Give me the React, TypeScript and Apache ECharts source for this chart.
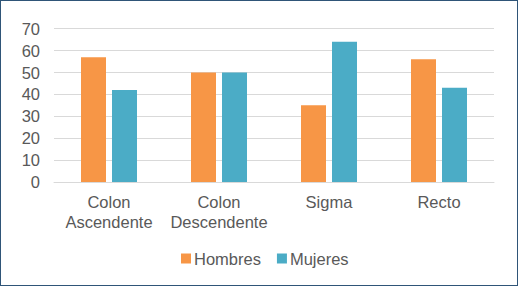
import React, { useEffect, useRef } from "react";
import * as echarts from "echarts";

const categories = ["Colon\nAscendente", "Colon\nDescendente", "Sigma", "Recto"];
const hombres = [57, 50, 35, 56];
const mujeres = [42, 50, 64, 43];
const seriesNames = ["Hombres", "Mujeres"];

export default function App() {
  const ref = useRef<HTMLDivElement>(null);
  useEffect(() => {
    document.body.style.margin = "0";
    const chart = echarts.init(ref.current!, null, { renderer: "svg" });
    const font = "'Liberation Sans', Arial, sans-serif";
    const gray = "#595959";
    chart.setOption({
      animation: false,
      backgroundColor: "#ffffff",
      textStyle: { fontFamily: font },
      legend: {
        data: seriesNames,
        left: 176,
        top: 245,
        itemWidth: 10,
        itemHeight: 10,
        itemGap: 16,
        icon: "rect",
        textStyle: { color: gray, fontSize: 16.5, fontFamily: font, padding: [0, 0, 0, -2] },
      },
      grid: { left: 54, right: 24, top: 28.7, bottom: 104, containLabel: false },
      xAxis: {
        type: "category",
        data: categories,
        axisLine: { show: true, lineStyle: { color: "#D9D9D9", width: 1 } },
        axisTick: { show: false },
        axisLabel: { color: gray, fontSize: 16.5, fontFamily: font, lineHeight: 20, margin: 10, interval: 0 },
      },
      yAxis: {
        type: "value",
        min: 0,
        max: 70,
        interval: 10,
        axisLine: { show: false },
        axisTick: { show: false },
        splitLine: { lineStyle: { color: "#D9D9D9", width: 1 } },
        axisLabel: { color: gray, fontSize: 16.5, fontFamily: font, margin: 14 },
      },
      series: [
        {
          name: seriesNames[0],
          type: "bar",
          data: hombres,
          barWidth: 25,
          barGap: "24%",
          itemStyle: { color: "#F79646" },
        },
        {
          name: seriesNames[1],
          type: "bar",
          data: mujeres,
          barWidth: 25,
          barGap: "24%",
          itemStyle: { color: "#4BACC6" },
        },
      ],
    });
    return () => chart.dispose();
  }, []);
  return (
    <div style={{ position: "fixed", left: 0, top: 0, width: 518, height: 286 }}>
      <div ref={ref} style={{ position: "absolute", left: 0, top: 0, width: 518, height: 286 }} />
      <div
        style={{
          position: "absolute",
          left: 0,
          top: 0,
          width: 518,
          height: 286,
          boxSizing: "border-box",
          border: "1px solid #2F5578",
          pointerEvents: "none",
        }}
      />
    </div>
  );
}
